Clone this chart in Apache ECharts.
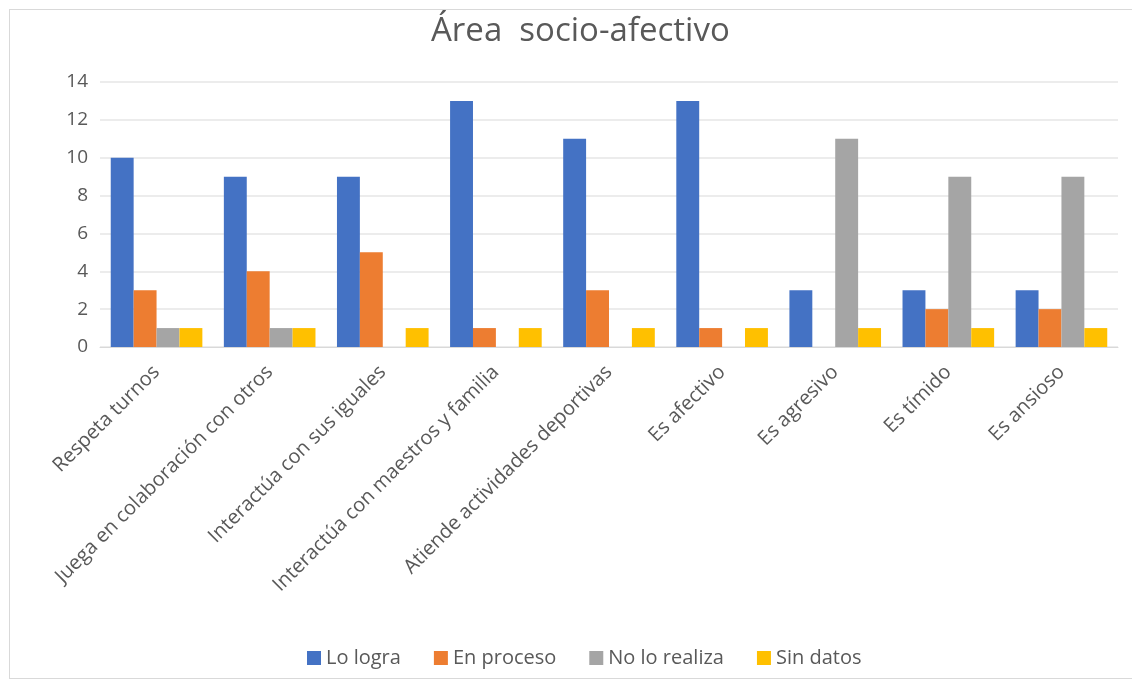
<!DOCTYPE html>
<html>
<head>
<meta charset="utf-8">
<script src="https://cdn.jsdelivr.net/npm/echarts@6/dist/echarts.min.js"></script>
<style>
html,body{margin:0;padding:0;background:#fff;}
#wrap{position:absolute;left:9px;top:9px;width:1140px;height:670px;border:1px solid #d9d9d9;box-sizing:border-box;}
#chart{position:absolute;left:0;top:0;width:1132px;height:687px;}
</style>
</head>
<body>
<div id="wrap"></div>
<div id="chart"></div>
<script>
const categories = ["Respeta turnos","Juega en colaboración con otros","Interactúa con sus iguales","Interactúa con maestros y familia","Atiende actividades deportivas","Es afectivo","Es agresivo","Es tímido","Es ansioso"];
const loLogra = [10,9,9,13,11,13,3,3,3];
const enProceso = [3,4,5,1,3,1,0,2,2];
const noLoRealiza = [1,1,0,0,0,0,11,9,9];
const sinDatos = [1,1,1,1,1,1,1,1,1];
const yTicks = [0,2,4,6,8,10,12,14];

const chart = echarts.init(document.getElementById('chart'));
const font = "'Open Sans', 'Noto Sans', sans-serif";
function s(name, data, color){
  return {name, type:'bar', data: data.map(v => v === 0 ? null : v), itemStyle:{color}, barGap:'0%', barCategoryGap:'19%'};
}
chart.setOption({
  animation:false,
  title:{text:'Área  socio-afectivo', left:426, top:10, textStyle:{fontFamily:font, fontSize:33, fontWeight:'normal', color:'#595959'}},
  legend:{top:643, left:302, itemWidth:14, itemHeight:14, itemGap:33, icon:'rect', textStyle:{fontFamily:font, fontSize:20, color:'#595959'}},
  grid:{left:100, right:14, top:82, bottom:340, containLabel:false},
  xAxis:{type:'category', data:categories, axisTick:{show:false}, axisLine:{lineStyle:{color:'#d9d9d9'}},
    axisLabel:{rotate:45, interval:0, fontFamily:font, fontSize:20, color:'#595959', margin:22}},
  yAxis:{type:'value', min:yTicks[0], max:yTicks[yTicks.length-1], interval:2, axisLine:{show:false}, axisTick:{show:false},
    axisLabel:{fontFamily:font, fontSize:19, color:'#595959', margin:12},
    splitLine:{lineStyle:{color:'#e6e6e6', width:1.5}}},
  series:[
    s('Lo logra', loLogra, '#4472C4'),
    s('En proceso', enProceso, '#ED7D31'),
    s('No lo realiza', noLoRealiza, '#A5A5A5'),
    s('Sin datos', sinDatos, '#FFC000')
  ]
});
</script>
</body>
</html>
